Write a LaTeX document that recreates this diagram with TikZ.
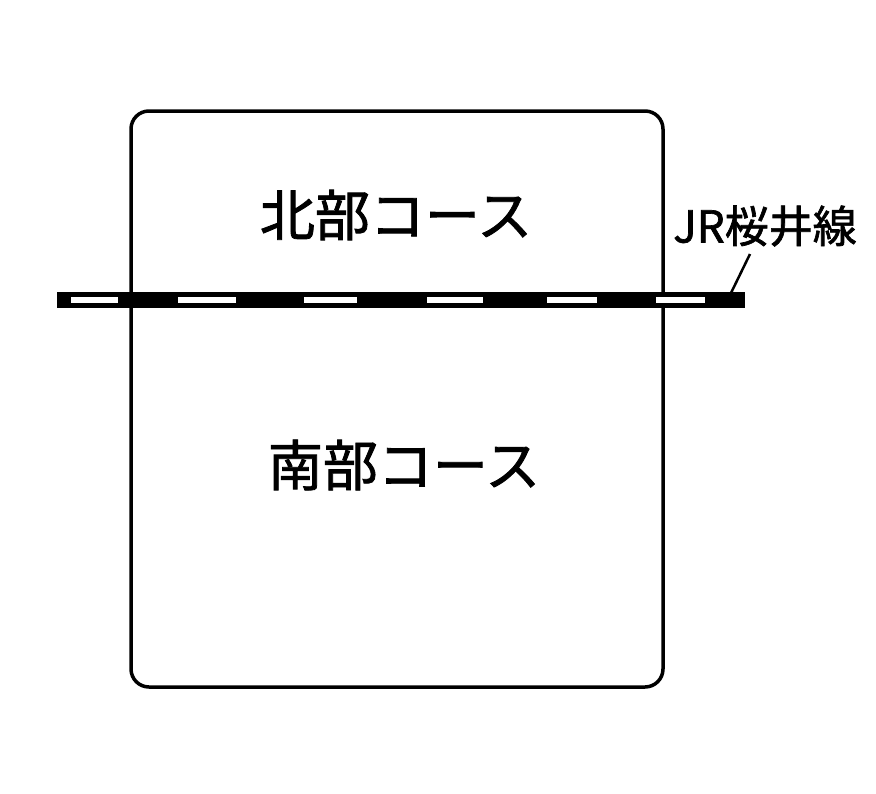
\documentclass[tikz,border=0pt]{standalone}
\usepackage{fontspec}
\newfontfamily\jpfont[FakeBold=1.5]{Noto Sans CJK JP}
\begin{document}
\begin{tikzpicture}[x=1pt,y=-1pt,
	area/.style={font=\jpfont\fontsize{55}{55}\selectfont},
	tag/.style={font=\jpfont\fontsize{44}{44}\selectfont}]
		\useasboundingbox (0,0) rectangle (876,793);
		\draw [line width=3.5pt, rounded corners=18pt] (131,111) rectangle (663,687);
		\node[area] (north) at (396,215) {北部コース};
		\node[area] (south) at (404,465) {南部コース};
		
		% railway
		\fill (57,292) rectangle (745,308);
		\foreach \a/\b in {71/118, 178/236, 304/357, 427/483, 547/597, 656/705}
			\fill[white] (\a,297) rectangle (\b,303);
		
		\node[tag] (jr) at (765,226) {JR桜井線};
		\coordinate (rail) at (731,293);
		\draw [line width=2.5pt] (750,254) -- (rail);
	\end{tikzpicture}
\end{document}
